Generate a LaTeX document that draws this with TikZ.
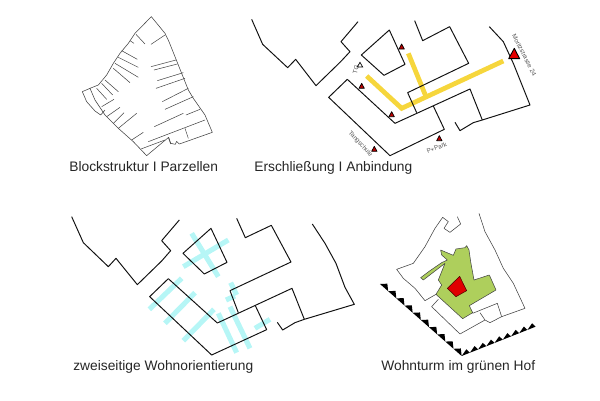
\documentclass[tikz,border=0pt]{standalone}
\usepackage{fontspec}
\setmainfont{Liberation Sans}
\usetikzlibrary{calc}
\definecolor{wallink}{HTML}{111111}
\definecolor{thinink}{HTML}{444444}
\definecolor{roadyellow}{HTML}{F6D63C}
\definecolor{cyanbar}{HTML}{B6F6F6}
\definecolor{yardgreen}{HTML}{AECF5C}
\definecolor{towerred}{HTML}{E00000}
\definecolor{labelgray}{HTML}{555555}
\tikzset{
  wall/.style={draw=wallink,line width=0.55pt,line join=round},
  thin ink/.style={draw=thinink,line width=0.32pt,line join=round},
  parcel/.style={draw=thinink,line width=0.3pt},
  road/.style={draw=roadyellow,line width=2.7pt},
  orient/.style={draw=cyanbar,line width=2.9pt},
  caption/.style={font=\fontsize{7.85pt}{10pt}\selectfont,text=black!85,anchor=base west,inner sep=0pt},
  tiny label/.style={font=\fontsize{3.6pt}{4pt}\selectfont,text=labelgray,inner sep=0pt},
  entrance/.style={fill=towerred!85!black,draw=black,line width=0.4pt,line join=round},
  zoomed/.style={x=0.0066667cm,y=-0.0066667cm}
}
\begin{document}
\begin{tikzpicture}[x=0.02cm,y=-0.02cm]
\useasboundingbox (0,0) rectangle (600,400);
% ---------- panel 1
\begin{scope}[shift={(50,0)},zoomed]
\draw[thin ink] (304,50)--(345,100)--(357,125)--(415,270)--(430,295)--(465,345)--(487,397)--(408,425)--(388,432)--(380,424)--(376,433)--(362,430)--(356,412)--(290,467)--(250,425)--(205,385)--(165,345)--(135,300)--(120,265)--(97,275)--(110,305)--(135,333)--(152,345)--(165,330);
\draw[thin ink] (120,265)--(145,255)--(170,225)--(190,190)--(210,160)--(235,130)--(255,100)--(304,50);
\foreach \a/\b/\c/\d in {258/103/285/132,240/122/252/130,215/152/262/178,205/172/265/202,195/190/265/232,190/205/240/248,165/240/205/275,155/250/188/285,140/265/170/298,155/320/192/298,170/350/210/322,190/370/222/338,205/385/260/340,245/420/280/397,303/133/345/105,303/200/378/180,312/210/382/192,322/242/400/218,318/265/405/235,337/305/415/265,345/328/430/290,313/380/400/340,408/345/450/328,295/425/465/360,273/447/345/420,405/385/415/415,355/412/362/432}
  \draw[parcel] (\a,\b)--(\c,\d);
\end{scope}
\node[caption] (cap1) at (69,171) {Blockstruktur I Parzellen};
% ---------- panel 2
\begin{scope}[shift={(240,0)},zoomed]
\draw[road] (380,228)--(485,325)--(790,183);
\draw[road] (505,160)--(558,290);
\draw[wall] (35,58)--(68,133)--(143,203)--(167,178)--(228,257)--(302,185)--(330,155)--(303,125)--(354,65);
\draw[wall] (364,165)--(448,90)--(495,193)--(432,226)--cycle;
\draw[wall] (524,62)--(548,122)--(629,80)--(686,190)--(503,278)--(530,338);
\draw[wall] (322,238)--(465,370)--(690,267)--(727,360)--(870,315)--(850,265)--(820,190)--(790,125)--(748,80);
\draw[wall] (322,238)--(266,292)--(450,467)--(613,388)--(580,318);
\draw[wall] (645,367)--(660,392)--(700,368)--(727,360);
\fill[red!90!black,draw=black,line width=0.5pt,line join=round] (823,145)--(839,176)--(806,176)--cycle;
\foreach \x/\y in {485/140,365/258,455/343,403/447,598/415}
  \draw[entrance] (\x,\y-8)--(\x+8,\y+7)--(\x-8,\y+7)--cycle;
\draw[black,fill=white,line width=0.4pt] (360,187)--(368,201)--(352,201)--cycle;
\node[tiny label,rotate=-63] (moritz) at (853,165) {Moritzstrasse 24};
\node[tiny label,rotate=-47,anchor=center] (tang) at (361,432) {Tangschule};
\node[tiny label,rotate=22] (park) at (590,443) {P+Park};
\node[tiny label,rotate=75] (tg) at (348,209) {TG};
\end{scope}
\node[caption] (cap2) at (254,171) {Erschließung I Anbindung};
% ---------- panel 3
\begin{scope}[shift={(140,220)},zoomed]
\foreach \a/\b/\c/\d in {155/40/235/170,130/140/265/60,28/268/125/175,75/310/165/218,130/362/222/268,235/280/290/398,270/260/330/385,272/188/290/225,258/240/285/228,345/325/390/298}
  \draw[orient] (\a,\b)--(\c,\d);
\end{scope}
\begin{scope}[shift={(60,200)},zoomed]
\draw[wall] (35,50)--(70,128)--(145,200)--(168,175)--(232,254)--(305,183)--(332,152)--(305,122)--(358,60);
\draw[wall] (369,160)--(453,85)--(501,187)--(433,222)--cycle;
\draw[wall] (530,55)--(556,113)--(634,76)--(693,186)--(510,272)--(535,338);
\draw[wall] (325,236)--(472,369)--(696,265)--(733,358)--(883,313)--(855,262)--(828,190)--(795,130)--(757,72);
\draw[wall] (325,236)--(269,290)--(455,465)--(620,389)--(586,317);
\draw[wall] (652,367)--(668,390)--(705,368)--(733,358);
\end{scope}
\node[caption] (cap3) at (73,370) {zweiseitige Wohnorientierung};
% ---------- panel 4
\begin{scope}[shift={(370,200)},zoomed]
\fill[yardgreen,draw=thinink,line width=0.3pt,line join=round] (212,150)--(250,166)--(258,147)--(285,143)--(290,137)--(297,150)--(302,185)--(312,240)--(358,225)--(378,270)--(298,317)--(308,338)--(278,356)--(198,283)--(215,255)--(205,240)--(225,190)--(160,240)--(152,233)--(180,212)--(215,188)--(232,180)--(215,165)--cycle;
\fill[towerred,draw=black!70!red,line width=0.3pt,line join=round] (269,229)--(290,272)--(258,290)--(232,265)--cycle;
\draw[thin ink] (327,40)--(345,95)--(375,150)--(400,205)--(430,250)--(465,325)--(395,350)--(382,310)--(308,340);
\draw[thin ink] (395,350)--(360,368)--(345,360)--(270,402)--(185,320)--(205,298);
\draw[thin ink] (330,338)--(345,360);
\draw[thin ink] (262,50)--(272,72)--(240,97)--(222,85)--(235,65)--(218,52)--(195,85)--(165,140)--(130,190)--(80,208)--(100,235)--(135,265)--(165,302)--(198,283);
% sawtooth
\coordinate (sawA) at (30,252);
\coordinate (sawV) at (275,468);
\coordinate (sawB) at (497,380);
\foreach \i in {0,...,9}
  \fill[black] ($(sawA)!\i/10!(sawV)$) -- ($(sawA)!\i/10!(sawV)+(22,-1)$) -- ($(sawA)!\i/10+0.1!(sawV)$) -- cycle;
\foreach \i in {0,...,8}
  \fill[black] ($(sawV)!\i/9!(sawB)$) -- ($(sawV)!\i/9!(sawB)+(14,-20)$) -- ($(sawV)!\i/9+0.1111!(sawB)$) -- cycle;
\end{scope}
\node[caption] (cap4) at (381,370) {Wohnturm im grünen Hof};
\end{tikzpicture}
\end{document}
